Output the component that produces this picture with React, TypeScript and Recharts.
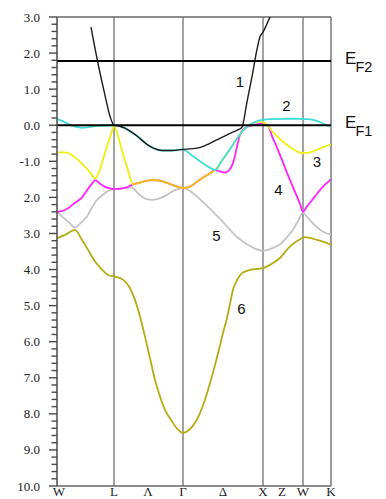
import React from 'react';
import { LineChart, Line, XAxis, YAxis, ReferenceLine, ReferenceDot } from 'recharts';

type P = { k: number; e: number };
const pts = (arr: number[][]): P[] => arr.map(([k, e]) => ({ k, e }));

// k-path positions of the symmetry points and the bottom labels
const kTicks = [0, 57, 91, 126, 166, 206, 225, 246, 274];
const kLabels = ['W', 'L', 'Λ', 'Γ', 'Δ', 'X', 'Z', 'W', 'K'];
const symLines = [57, 126, 206, 246];

// energy ticks (labels as printed in the figure)
const yMajor = [3, 2, 1, 0, -1, -2, -3, -4, -5, -6, -7, -8, -9, -10];
const yLabels = ['3.0', '2.0', '1.0', '0.0', '-1.0', '2.0', '3.0', '4.0', '5.0', '6.0', '7.0', '8.0', '9.0', '10.0'];

// Fermi levels
const fermiLevels = [
  { e: 1.78, sub: 'F2' },
  { e: 0, sub: 'F1' },
];

// band labels
const bandLabels = [
  { text: '1', k: 183, e: 1.21 },
  { text: '2', k: 229.5, e: 0.53 },
  { text: '3', k: 260, e: -1.01 },
  { text: '4', k: 221.5, e: -1.78 },
  { text: '5', k: 159.5, e: -3.07 },
  { text: '6', k: 184.5, e: -5.09 },
];

const band1 = pts([
  [34, 2.72], [40, 1.85], [47, 0.95], [53, 0.25], [57, 0.0], [62, -0.02], [68, -0.08], [75, -0.2],
  [81, -0.32], [86, -0.44], [91, -0.55], [97, -0.64], [105, -0.7], [115, -0.7], [126, -0.67],
  [136, -0.65], [145, -0.6], [153, -0.5], [162, -0.38], [170, -0.27], [177, -0.18], [181, -0.13],
  [185, -0.05], [190, 0.65], [195, 1.35], [200, 2.1], [203, 2.45], [206, 2.58], [209, 2.75], [213, 3.0],
]);

const band2 = pts([
  [0, 0.18], [5, 0.12], [11, 0.04], [18, -0.04], [25, -0.07], [32, -0.05], [40, -0.02], [48, -0.01],
  [57, 0.0], [62, -0.02], [68, -0.08], [75, -0.2], [81, -0.32], [86, -0.44], [91, -0.55], [97, -0.64],
  [105, -0.7], [115, -0.7], [126, -0.67], [135, -0.84], [143, -1.0], [150, -1.13], [158, -1.24],
  [165, -0.98], [172, -0.7], [178, -0.45], [185, -0.18], [190, -0.04], [196, 0.06], [201, 0.12],
  [206, 0.15], [212, 0.17], [218, 0.17], [230, 0.18], [240, 0.18], [248, 0.17], [256, 0.15],
  [262, 0.1], [268, 0.02], [274, -0.05],
]);

// part shared by bands 3 and 4 (degenerate, drawn orange)
const band34 = pts([
  [76, -1.64], [82, -1.6], [88, -1.55], [95, -1.52], [102, -1.53], [110, -1.6], [118, -1.68],
  [126, -1.74], [133, -1.7], [140, -1.57], [146, -1.45], [152, -1.35], [158, -1.24],
]);

const band3 = [
  ...pts([
    [0, -0.75], [6, -0.75], [11, -0.77], [16, -0.85], [21, -0.96], [26, -1.1], [31, -1.24],
    [35, -1.38], [38, -1.48], [42, -1.3], [46, -0.95], [50, -0.6], [54, -0.25], [57, -0.03],
    [60, -0.2], [63, -0.5], [66, -0.8], [70, -1.15], [73, -1.45],
  ]),
  ...band34,
  ...pts([
    [165, -0.98], [172, -0.7], [178, -0.45], [185, -0.18], [190, -0.04], [196, 0.06], [201, 0.1],
    [206, 0.08], [211, -0.02], [216, -0.2], [223, -0.38], [230, -0.55], [237, -0.68], [245, -0.77],
    [252, -0.76], [260, -0.68], [267, -0.6], [274, -0.53],
  ]),
];

const band4 = [
  ...pts([
    [0, -2.4], [6, -2.37], [11, -2.3], [18, -2.15], [25, -2.0], [30, -1.8], [35, -1.62], [38, -1.52],
    [43, -1.62], [48, -1.71], [53, -1.75], [57, -1.77], [63, -1.76], [70, -1.72],
  ]),
  ...band34,
  ...pts([
    [163, -1.28], [168, -1.31], [172, -1.25], [176, -1.05], [178, -0.85], [180, -0.59], [183, -0.27],
    [188, -0.08], [196, 0.0], [201, 0.03], [206, 0.05], [211, 0.0], [215, -0.3], [220, -0.62],
    [225, -0.96], [230, -1.32], [235, -1.65], [240, -1.98], [243, -2.18], [246, -2.4], [250, -2.25],
    [255, -2.08], [260, -1.9], [266, -1.7], [274, -1.5],
  ]),
];

const band5 = pts([
  [0, -2.4], [4, -2.5], [8, -2.6], [13, -2.72], [18, -2.84], [24, -2.7], [30, -2.53], [35, -2.28],
  [40, -2.07], [45, -1.95], [50, -1.84], [57, -1.77], [63, -1.76], [70, -1.72], [75, -1.73],
  [80, -1.86], [85, -1.98], [90, -2.05], [95, -2.07], [100, -2.05], [105, -2.0], [110, -1.93],
  [115, -1.84], [120, -1.78], [126, -1.74], [133, -1.82], [140, -1.98], [148, -2.18], [156, -2.4],
  [165, -2.65], [173, -2.9], [181, -3.12], [190, -3.3], [198, -3.42], [206, -3.48], [214, -3.42],
  [223, -3.3], [230, -3.1], [236, -2.9], [241, -2.65], [246, -2.43], [251, -2.57], [256, -2.72],
  [261, -2.85], [266, -2.95], [274, -3.03],
]);

const band6 = pts([
  [0, -3.13], [8, -3.04], [18, -2.9], [25, -3.18], [31, -3.45], [38, -3.78], [45, -4.0], [51, -4.15],
  [57, -4.19], [66, -4.28], [73, -4.52], [78, -4.84], [83, -5.3], [88, -5.86], [93, -6.46],
  [98, -7.06], [103, -7.52], [108, -7.89], [115, -8.21], [121, -8.44], [126, -8.53], [131, -8.47],
  [135, -8.36], [141, -8.1], [148, -7.61], [153, -7.15], [158, -6.65], [163, -6.1], [167, -5.65],
  [170, -5.35], [173, -4.95], [176, -4.56], [180, -4.29], [185, -4.1], [193, -4.01], [206, -3.96],
  [213, -3.87], [223, -3.68], [233, -3.36], [243, -3.16], [248, -3.1], [260, -3.18], [274, -3.31],
]);

const yTicks: number[] = [];
for (let i = 0; i < yMajor.length; i++) {
  yTicks.push(yMajor[i]);
  if (i < yMajor.length - 1) {
    for (let j = 1; j < 5; j++) yTicks.push(Math.round((yMajor[i] - j * 0.2) * 10) / 10);
  }
}

const SERIF = '"Liberation Serif", "DejaVu Serif", serif';
const SANS = '"Liberation Sans", Arial, sans-serif';

const YTick = (props: any) => {
  const { x, y, payload } = props;
  const v = payload.value;
  const idx = yMajor.findIndex((m) => Math.abs(m - v) < 1e-6);
  const major = idx >= 0;
  return (
    <g>
      <line x1={x - (major ? 8 : 5.5)} x2={x} y1={y} y2={y} stroke="#4a4a4a" strokeWidth={1.4} />
      {major && (
        <text x={x - 17} y={y + 4.5} textAnchor="end" fontSize={13} fontFamily={SERIF} fill="#222">
          {yLabels[idx]}
        </text>
      )}
    </g>
  );
};

const XTick = (props: any) => {
  const { x, y, payload } = props;
  const idx = kTicks.findIndex((m) => Math.abs(m - payload.value) < 1e-6);
  return (
    <text x={x + (idx === 0 ? 2 : 0)} y={y + 10} textAnchor="middle" fontSize={13} fontFamily={SERIF} fill="#222">
      {kLabels[idx]}
    </text>
  );
};

const fermiLabel = (sub: string) => (props: any) => {
  const vb = props.viewBox;
  const x = vb.x + vb.width + 14;
  const y = vb.y;
  return (
    <g>
      <text x={x} y={y + 2.5} fontSize={17} fontFamily={SANS} fill="#111">E</text>
      <text x={x + 10.5} y={y + 11} fontSize={14.5} fontFamily={SANS} fill="#111">{sub}</text>
    </g>
  );
};

export default function App() {
  const lineProps = {
    dataKey: 'e',
    type: 'monotone' as const,
    dot: false,
    activeDot: false,
    isAnimationActive: false,
    strokeWidth: 1.8,
  };
  return (
    <div style={{ position: 'absolute', left: 0, top: 0, width: 386, height: 499, overflow: 'hidden', background: '#fff' }}>
      <LineChart width={386} height={499} margin={{ top: 17, right: 55, bottom: 0, left: 8 }}>
        <XAxis
          type="number"
          dataKey="k"
          domain={[0, 274]}
          allowDataOverflow
          ticks={kTicks}
          interval={0}
          tickLine={false}
          tickSize={0}
          tickMargin={0}
          height={13}
          axisLine={{ stroke: '#666', strokeWidth: 1.5 }}
          tick={<XTick />}
        />
        <YAxis
          type="number"
          domain={[-10, 3]}
          allowDataOverflow
          ticks={yTicks}
          interval={0}
          tickLine={false}
          tickSize={0}
          tickMargin={0}
          width={49}
          axisLine={{ stroke: '#4a4a4a', strokeWidth: 1.5 }}
          tick={<YTick />}
        />
        <ReferenceLine y={3} stroke="#666" strokeWidth={1.5} />
        <ReferenceLine x={274} stroke="#777" strokeWidth={1.5} />
        {symLines.map((k) => (
          <ReferenceLine key={k} x={k} stroke="#707070" strokeWidth={1.3} />
        ))}
        <Line {...lineProps} data={band5} stroke="#c4c4c4" />
        <Line {...lineProps} data={band6} stroke="#b4ac14" />
        <Line {...lineProps} data={band4} stroke="#ff22ff" />
        <Line {...lineProps} data={band3} stroke="#eeee10" />
        <Line {...lineProps} data={band34} stroke="#f3b42c" />
        <Line {...lineProps} data={band2} stroke="#40dcd8" />
        <Line {...lineProps} data={band1} stroke="#1c1c1c" strokeWidth={1.4} />
        {fermiLevels.map((f) => (
          <ReferenceLine
            key={f.sub}
            y={f.e}
            stroke="#000"
            strokeWidth={2.2}
            label={{ content: fermiLabel(f.sub) }}
          />
        ))}
        {bandLabels.map((b) => (
          <ReferenceDot
            key={b.text}
            x={b.k}
            y={b.e}
            r={0}
            fill="none"
            stroke="none"
            label={{ value: b.text, position: 'center', fontSize: 15, fontFamily: SANS, fill: '#111' }}
          />
        ))}
      </LineChart>
    </div>
  );
}
